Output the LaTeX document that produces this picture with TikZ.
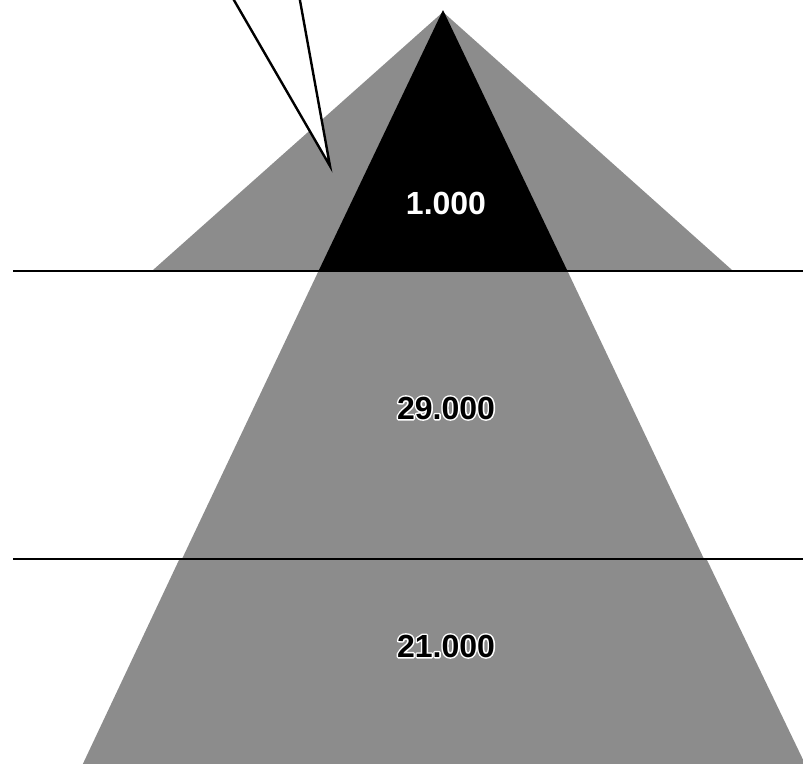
\documentclass[tikz,border=0pt]{standalone}
\usepackage{fontspec}
\setmainfont{Liberation Sans}
\newcommand{\strokeonly}[1]{\special{pdf:literal direct q 1 Tr 3 w 1 j 1 1 1 RG}#1\special{pdf:literal direct Q}}
\tikzset{
  grayfill/.style={fill=black!45},
  rule/.style={draw=black,line width=2.2pt},
  callout/.style={draw=black,fill=white,line width=2.4pt,line join=miter},
  lbl/.style={font=\bfseries\fontsize{32}{32}\selectfont,inner sep=0pt},
}
\begin{document}
\begin{tikzpicture}[x=1pt,y=-1pt]
\useasboundingbox (0,0) rectangle (803,763);
\clip (0,0) rectangle (803,763);
% geometry
\coordinate (apex) at (443,10);
\coordinate (gapex) at (443,12);
\coordinate (gl) at (153,270);
\coordinate (gr) at (732,270);
\coordinate (bl1) at (319,270);
\coordinate (br1) at (567,270);
\coordinate (bl2) at (182,559);
\coordinate (br2) at (704,559);
\coordinate (bl2b) at (179,560);
\coordinate (br2b) at (707,560);
\coordinate (bl3) at (80,770);
\coordinate (br3) at (808,770);
\coordinate (c1) at (231,-5);
\coordinate (c2) at (299,-5);
\coordinate (tip) at (330,166);
\coordinate (l1a) at (13,271);
\coordinate (l1b) at (803,271);
\coordinate (l2a) at (13,559);
\coordinate (l2b) at (803,559);
% upper gray triangle
\fill[grayfill] (gapex) -- (gl) -- (gr) -- cycle;
% callout wedge
\filldraw[callout] (c1) -- (tip) -- (c2);
% black apex triangle
\fill[black] (apex) -- (bl1) -- (br1) -- cycle;
% middle band
\fill[grayfill] (bl1) -- (bl2) -- (br2) -- (br1) -- cycle;
% bottom band
\fill[grayfill] (bl2b) -- (bl3) -- (br3) -- (br2b) -- cycle;
% horizontal rules
\draw[rule] (l1a) -- (l1b);
\draw[rule] (l2a) -- (l2b);
% labels
\node[lbl,text=white] (t1) at (446,203) {1.000};
\node[lbl,text=white] (h2) at (446,408) {\strokeonly{29.000}};
\node[lbl,text=white] (h3) at (446,646) {\strokeonly{21.000}};
\node[lbl,text=black] (t2) at (446,408) {29.000};
\node[lbl,text=black] (t3) at (446,646) {21.000};
\end{tikzpicture}
\end{document}
